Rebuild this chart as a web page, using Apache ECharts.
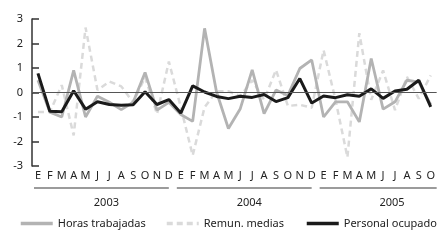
<!DOCTYPE html>
<html>
<head>
<meta charset="utf-8">
<script src="https://cdn.jsdelivr.net/npm/echarts@6/dist/echarts.min.js"></script>
<style>
    html, body { margin: 0; padding: 0; background: #fff; }
    #chart-container { width: 438px; height: 240px; }
</style>
</head>
<body>
<div id="chart-container"></div>
<script>
var meses = ['E', 'F', 'M', 'A', 'M', 'J', 'J', 'A', 'S', 'O', 'N', 'D',
    'E', 'F', 'M', 'A', 'M', 'J', 'J', 'A', 'S', 'O', 'N', 'D',
    'E', 'F', 'M', 'A', 'M', 'J', 'J', 'A', 'S', 'O'];
var anios = ['2003', '2004', '2005'];
var mesesPorAnio = [12, 12, 10];
var series = ['Horas trabajadas', 'Remun. medias', 'Personal ocupado'];

var horasTrabajadas = [0.5, -0.8, -1.0, 0.9, -1.0, -0.15, -0.4, -0.7, -0.4, 0.82, -0.72, -0.4,
    -0.9, -1.18, 2.62, 0.03, -1.47, -0.66, 0.92, -0.86, 0.1, -0.12, 0.98, 1.33,
    -1.0, -0.38, -0.38, -1.2, 1.39, -0.68, -0.38, 0.5, 0.42, -0.5];
var remunMedias = [-0.8, -0.8, 0.3, -1.75, 2.65, 0.1, 0.45, 0.25, -0.4, 0.62, -0.88, 1.26,
    -0.6, -2.57, -0.6, 0.05, 0.05, -0.15, 0.5, -0.3, 0.92, -0.55, -0.5, -0.62,
    1.73, -0.3, -2.64, 2.42, -0.3, 0.9, -0.72, 0.64, -0.25, 0.7];
var personalOcupado = [0.78, -0.77, -0.79, 0.07, -0.68, -0.38, -0.49, -0.52, -0.5, 0.03, -0.49, -0.29,
    -0.84, 0.27, 0.02, -0.16, -0.25, -0.15, -0.2, -0.08, -0.37, -0.21, 0.57, -0.43,
    -0.14, -0.21, -0.09, -0.15, 0.15, -0.24, 0.06, 0.13, 0.5, -0.59];

var fuente = 'Noto Sans';
var domChart = document.getElementById('chart-container');
var ioChart = echarts.init(domChart, null, { renderer: 'canvas' });

function leyenda(nombre, left) {
    return {
        left: left,
        top: 218,
        padding: 0,
        itemWidth: 32,
        itemHeight: 4,
        itemGap: 0,
        selectedMode: false,
        itemStyle: { opacity: 0 },
        lineStyle: { width: 3.5 },
        data: [nombre],
        textStyle: { fontFamily: fuente, fontSize: 11, color: '#222' }
    };
}

var chartOption = {
    backgroundColor: '#fff',
    animation: false,
    grid: { left: 32, right: 0, top: 19, bottom: 74 },
    legend: [
        leyenda(series[0], 19),
        leyenda(series[1], 165),
        leyenda(series[2], 305)
    ],
    xAxis: {
        type: 'category',
        data: meses,
        boundaryGap: true,
        axisLine: { show: false },
        axisTick: { show: false },
        axisLabel: { interval: 0, margin: 4, fontFamily: fuente, fontSize: 11, color: '#222' }
    },
    yAxis: {
        type: 'value',
        min: -3,
        max: 3,
        interval: 1,
        axisLine: { show: true, lineStyle: { color: '#333', width: 1.5 } },
        axisTick: { show: true, inside: true, length: 7, lineStyle: { color: '#333', width: 1.5 } },
        splitLine: { show: false },
        axisLabel: { margin: 9, fontFamily: fuente, fontSize: 11, color: '#222' }
    },
    series: [
        {
            name: series[1],
            type: 'line',
            data: remunMedias,
            symbol: 'none',
            z: 1,
            lineStyle: { color: '#dadada', width: 2.5, type: [6, 4] },
            itemStyle: { color: '#dadada' }
        },
        {
            name: series[0],
            type: 'line',
            data: horasTrabajadas,
            symbol: 'none',
            z: 2,
            lineStyle: { color: '#b3b3b3', width: 2.8 },
            itemStyle: { color: '#b3b3b3' }
        },
        {
            name: series[2],
            type: 'line',
            data: personalOcupado,
            symbol: 'none',
            z: 3,
            lineStyle: { color: '#1a1a1a', width: 3 },
            itemStyle: { color: '#1a1a1a' },
            markLine: {
                silent: true,
                symbol: ['none', 'none'],
                label: { show: false },
                lineStyle: { color: '#555', width: 1, type: 'solid' },
                data: [{ yAxis: 0 }]
            }
        }
    ]
};
ioChart.setOption(chartOption);

// años debajo de los meses
function dibujarAnios() {
    var ancho = ioChart.convertToPixel({ xAxisIndex: 0 }, 1) - ioChart.convertToPixel({ xAxisIndex: 0 }, 0);
    var graficos = [];
    var inicio = 0;
    for (var i = 0; i < anios.length; i++) {
        var x0 = ioChart.convertToPixel({ xAxisIndex: 0 }, inicio) - ancho / 2;
        var x1 = ioChart.convertToPixel({ xAxisIndex: 0 }, inicio + mesesPorAnio[i] - 1) + ancho / 2;
        var xc = ioChart.convertToPixel({ xAxisIndex: 0 }, inicio) + ancho * 5.75;
        var fin = (i === anios.length - 1) ? x1 : x1 - 6;
        graficos.push({
            type: 'line',
            silent: true,
            shape: { x1: x0 + 2, y1: 188, x2: fin, y2: 188 },
            style: { stroke: '#7a7a7a', lineWidth: 1.5 }
        });
        graficos.push({
            type: 'text',
            silent: true,
            x: xc,
            y: 203,
            style: { text: anios[i], fontFamily: fuente, fontSize: 11, fill: '#222', align: 'center', verticalAlign: 'middle' }
        });
        inicio += mesesPorAnio[i];
    }
    ioChart.setOption({ graphic: graficos });
}
dibujarAnios();
</script>
</body>
</html>
